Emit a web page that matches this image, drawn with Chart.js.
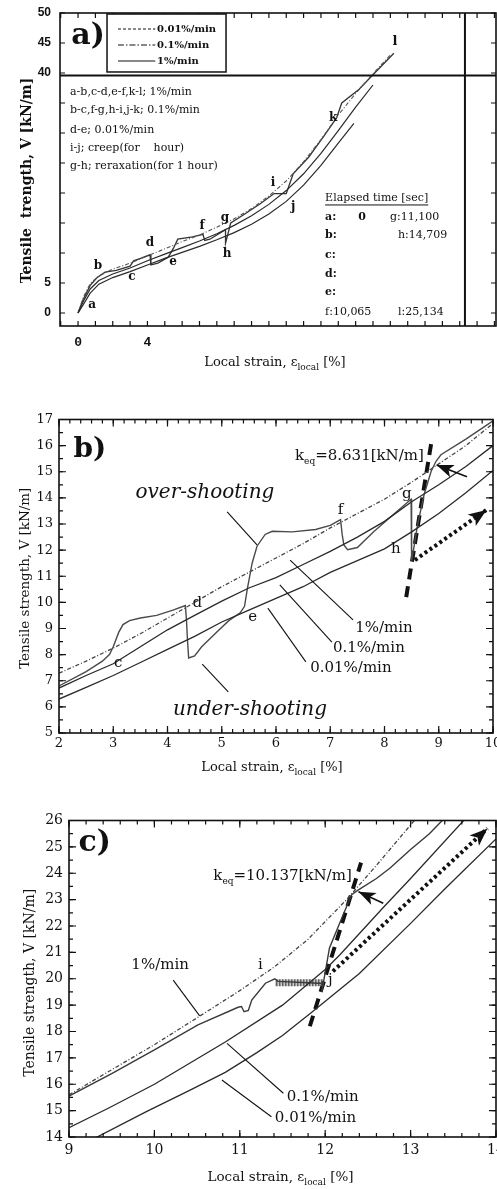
<!DOCTYPE html>
<html>
<head>
<meta charset="utf-8">
<script src="https://cdn.jsdelivr.net/npm/chart.js@4.4.1/dist/chart.umd.min.js"></script>
<style>
  html, body { margin: 0; padding: 0; background: #fff; overflow: hidden; }
  body { width: 497px; height: 1189px; position: relative; }
  canvas { position: absolute; left: 0; }
</style>
</head>
<body>
<canvas id="chartA"></canvas>
<canvas id="chartB"></canvas>
<canvas id="chartC"></canvas>
<script>
// ---- panel a) whole test, strain [%] vs V [kN/m] ----
const aTest = [[0,0],[0.3,2.3],[0.7,4.6],[1.1,5.9],[1.56,6.8],[2.2,7.1],[3.0,7.8],[3.2,8.7],[3.6,9.1],[4.15,9.7],[4.2,8.0],[4.6,8.3],[5.2,9.3],[5.5,10.8],[5.75,12.3],[6.6,12.7],[7.2,13.1],[7.3,12.1],[7.6,12.3],[8.5,13.9],[8.5,11.6],[8.8,15.0],[9.5,16.3],[10.5,18.2],[11.3,19.9],[12.0,19.9],[12.4,23.2],[13.3,26.0],[14.2,29.6],[14.9,32.5],[15.2,35.0],[16.2,37.3],[17.0,39.7],[18.2,43.3]];
const aRate1 = [[0,0],[0.3,2.6],[0.7,4.9],[1.2,6.2],[2,7.3],[3,8.3],[4,9.5],[5,10.7],[6,11.9],[7,13.0],[8,14.3],[9,15.7],[10,17.4],[11,19.5],[12,22.0],[13,25.2],[14,28.9],[15,33.0],[16,36.6],[17,39.9],[18,43.0]];
const aRate01 = [[0,0],[0.3,1.9],[0.7,4.0],[1.2,5.4],[2,6.5],[3,7.5],[4,8.7],[5,9.8],[6,10.9],[7,12.0],[8,13.2],[9,14.6],[10,16.2],[11,18.1],[12,20.4],[13,23.2],[14,26.6],[15,30.4],[16,34.3],[17,38.0]];
const aRate001 = [[0,0],[0.3,1.4],[0.7,3.3],[1.2,4.8],[2,5.9],[3,6.9],[4,8.0],[5,9.1],[6,10.1],[7,11.1],[8,12.2],[9,13.4],[10,14.8],[11,16.5],[12,18.6],[13,21.3],[14,24.6],[15,28.3],[15.9,31.6]];
const aXTicks = [-1,0,1,2,3,4,5,6,7,8,9,10,11,12,13,14,15,16,17,18,19,20,21,22,23,24];
const aXLabels = [0, 4];
const aYTicks = [0,5,10,15,20,25,30,35,40,45,50];
const aYLabels = [0, 5, 40, 45, 50];

// ---- panel b) strain 2-10 % ----
const bTest = [[2,6.8],[2.5,7.35],[2.8,7.75],[2.93,8.0],[3.0,8.3],[3.1,8.85],[3.18,9.15],[3.3,9.3],[3.5,9.4],[3.8,9.5],[4.1,9.7],[4.33,9.88],[4.35,9.3],[4.37,8.5],[4.39,7.87],[4.5,7.95],[4.63,8.3],[4.9,8.85],[5.13,9.3],[5.34,9.6],[5.42,9.85],[5.47,10.5],[5.56,11.5],[5.65,12.15],[5.8,12.6],[5.93,12.72],[6.3,12.7],[6.73,12.79],[7.0,12.95],[7.19,13.17],[7.22,12.6],[7.25,12.2],[7.32,12.02],[7.5,12.1],[7.8,12.7],[8.1,13.25],[8.49,13.95],[8.5,13.0],[8.5,11.6],[8.55,12.2],[8.61,12.98],[8.73,14.13],[8.86,15.02],[8.95,15.4],[9.04,15.65],[9.5,16.25],[10,16.95]];
const bRate1 = [[2,7.29],[2.5,7.75],[3,8.25],[3.5,8.8],[4,9.4],[4.5,10.0],[5,10.6],[5.5,11.15],[6,11.7],[6.5,12.25],[7,12.85],[7.5,13.4],[8,13.95],[8.5,14.6],[9,15.3],[9.5,16.0],[10,16.85]];
const bRate01 = [[2,6.72],[2.5,7.2],[3,7.65],[3.5,8.3],[4,8.95],[4.5,9.5],[5,10.05],[5.5,10.55],[6,10.95],[6.5,11.45],[7,11.95],[7.5,12.5],[8,13.1],[8.5,13.85],[9,14.5],[9.5,15.2],[10,16.0]];
const bRate001 = [[2,6.3],[2.5,6.75],[3,7.2],[3.5,7.7],[4,8.2],[4.5,8.7],[5,9.25],[5.5,9.7],[6,10.15],[6.5,10.6],[7,11.15],[7.5,11.6],[8,12.05],[8.5,12.7],[9,13.4],[9.5,14.2],[10,15.05]];
const bKeq = [[8.40,10.2],[8.87,16.2]];
const bDotArrow = [[8.56,11.62],[9.88,13.54]];
const bXTicks = [2,3,4,5,6,7,8,9,10];
const bYTicks = [5,6,7,8,9,10,11,12,13,14,15,16,17];

// ---- panel c) strain 9-14 % ----
const cTest = [[9,15.55],[9.5,16.4],[10,17.3],[10.51,18.25],[10.98,18.92],[11.02,18.95],[11.05,18.75],[11.1,18.8],[11.14,19.19],[11.3,19.83],[11.41,20.0],[11.45,19.9],[11.98,19.82],[11.96,19.5],[12.05,21.17],[12.21,22.43],[12.31,23.19],[12.38,23.35],[12.6,23.8],[12.76,24.2],[13.0,24.9],[13.22,25.5],[13.4,26.1]];
const cRate1 = [[9,15.6],[9.5,16.55],[10,17.5],[10.51,18.54],[11,19.55],[11.41,20.46],[11.8,21.5],[12.25,23.0],[12.6,24.3],[13.07,26.1]];
const cRate01 = [[9,14.35],[9.46,15.09],[10,16.0],[10.83,17.6],[11.5,19.0],[12,20.35],[12.17,20.9],[12.68,22.7],[13,23.8],[13.65,26.1]];
const cRate001 = [[9.3,13.95],[9.9,14.95],[10.4,15.75],[10.83,16.45],[11.2,17.2],[11.5,17.85],[11.85,18.75],[12.4,20.2],[13,22.1],[13.4,23.4],[14,25.3]];
const cCreep = [[11.42,19.85],[11.98,19.85]];
const cKeq = [[11.82,18.2],[12.42,24.4]];
const cDotArrow = [[12.09,20.28],[13.9,25.7]];
const cXTicks = [9,10,11,12,13,14];
const cYTicks = [14,15,16,17,18,19,20,21,22,23,24,25,26];

const SERIF = 'DejaVu Serif';
const INK = '#111';

function pts(arr) { return arr.map(([x, y]) => ({ x, y })); }

function line(data, color, width, dash) {
  return {
    data: pts(data), showLine: true, pointRadius: 0, tension: 0, fill: false,
    borderColor: color, borderWidth: width, borderDash: dash || [],
  };
}

function axis(min, max, ticks, labelOk, font, pad, size, isX) {
  return {
    type: 'linear', min, max,
    grid: { display: false, drawTicks: false },
    border: { display: false },
    afterBuildTicks: s => { s.ticks = ticks.map(v => ({ value: v })); },
    afterFit: s => {
      if (isX) s.height = size; else s.width = size;
      s.paddingLeft = s.paddingRight = s.paddingTop = s.paddingBottom = 0;
    },
    ticks: { autoSkip: false, maxRotation: 0, padding: pad, color: INK, font,
      callback: v => (labelOk(v) ? String(v) : '') },
  };
}

function drawRich(ctx, parts, x, y, font, subFont, align) {
  let w = 0;
  parts.forEach(([t, sub]) => { ctx.font = sub ? subFont : font; w += ctx.measureText(t).width; });
  let cx = align === 'center' ? x - w / 2 : x;
  ctx.textAlign = 'left';
  ctx.textBaseline = 'alphabetic';
  parts.forEach(([t, sub]) => {
    ctx.font = sub ? subFont : font;
    ctx.fillText(t, cx, sub ? y + 4 : y);
    cx += ctx.measureText(t).width;
  });
}

function head(ctx, x1, y1, x2, y2, len, w) {
  const a = Math.atan2(y2 - y1, x2 - x1);
  ctx.beginPath();
  ctx.moveTo(x2, y2);
  ctx.lineTo(x2 - len * Math.cos(a) + w / 2 * Math.sin(a), y2 - len * Math.sin(a) - w / 2 * Math.cos(a));
  ctx.lineTo(x2 - len * Math.cos(a) * 0.75, y2 - len * Math.sin(a) * 0.75);
  ctx.lineTo(x2 - len * Math.cos(a) - w / 2 * Math.sin(a), y2 - len * Math.sin(a) + w / 2 * Math.cos(a));
  ctx.closePath();
  ctx.fill();
}

const figure = {
  id: 'figure',
  afterDraw(chart, args, o) {
    const { ctx, chartArea: a, scales } = chart;
    const X = v => scales.x.getPixelForValue(v);
    const Y = v => scales.y.getPixelForValue(v);
    ctx.save();
    ctx.strokeStyle = INK;
    ctx.fillStyle = INK;

    // frame
    ctx.lineWidth = 1.6;
    ctx.strokeRect(a.left, a.top, a.width, a.height);

    // inward ticks on all four sides
    const t = o.ticks;
    const steps = (min, max, step) => {
      const out = [];
      for (let k = Math.ceil(min / step - 1e-6); k * step <= max + 1e-6; k++) out.push(k * step);
      return out;
    };
    const xt = (vals, len) => vals.forEach(v => {
      const p = X(v);
      if (p < a.left - 0.5 || p > a.right + 0.5) return;
      ctx.beginPath();
      ctx.moveTo(p, a.bottom); ctx.lineTo(p, a.bottom - len);
      ctx.moveTo(p, a.top); ctx.lineTo(p, a.top + len);
      ctx.stroke();
    });
    const yt = (vals, len) => vals.forEach(v => {
      const p = Y(v);
      if (p < a.top - 0.5 || p > a.bottom + 0.5) return;
      ctx.beginPath();
      ctx.moveTo(a.left, p); ctx.lineTo(a.left + len, p);
      ctx.moveTo(a.right, p); ctx.lineTo(a.right - len, p);
      ctx.stroke();
    });
    ctx.lineWidth = 1.2;
    if (t.xMinor) xt(steps(scales.x.min, scales.x.max, t.xMinor), t.minor);
    if (t.yMinor) yt(steps(scales.y.min, scales.y.max, t.yMinor), t.minor);
    xt(t.x, t.major);
    yt(t.y, t.major);

    // straight rules (panel a)
    ctx.lineWidth = 2;
    if (o.hRule !== undefined) {
      ctx.beginPath(); ctx.moveTo(a.left, Y(o.hRule)); ctx.lineTo(a.right, Y(o.hRule)); ctx.stroke();
    }
    if (o.vRule !== undefined) {
      ctx.beginPath(); ctx.moveTo(X(o.vRule), a.top); ctx.lineTo(X(o.vRule), a.bottom); ctx.stroke();
    }

    // legend box
    if (o.legend) {
      const L = o.legend;
      ctx.fillStyle = '#fff';
      ctx.fillRect(X(L.x0), Y(L.y0), X(L.x1) - X(L.x0), Y(L.y1) - Y(L.y0));
      ctx.fillStyle = INK;
      ctx.lineWidth = 1.5;
      ctx.strokeRect(X(L.x0), Y(L.y0), X(L.x1) - X(L.x0), Y(L.y1) - Y(L.y0));
      L.items.forEach(it => {
        ctx.lineWidth = 1.2;
        ctx.setLineDash(it.dash);
        ctx.beginPath(); ctx.moveTo(X(L.lx0), Y(it.y)); ctx.lineTo(X(L.lx1), Y(it.y)); ctx.stroke();
        ctx.setLineDash([]);
        ctx.font = L.font; ctx.textAlign = 'left'; ctx.textBaseline = 'middle';
        ctx.fillText(it.label, X(L.tx), Y(it.y));
      });
    }

    // pointer lines
    ctx.lineWidth = 1.1;
    (o.pointers || []).forEach(([x1, y1, x2, y2]) => {
      ctx.beginPath(); ctx.moveTo(X(x1), Y(y1)); ctx.lineTo(X(x2), Y(y2)); ctx.stroke();
    });
    // solid arrows with heads
    ctx.lineWidth = 1.6;
    (o.arrows || []).forEach(([x1, y1, x2, y2]) => {
      ctx.beginPath(); ctx.moveTo(X(x1), Y(y1)); ctx.lineTo(X(x2), Y(y2)); ctx.stroke();
      head(ctx, X(x1), Y(y1), X(x2), Y(y2), 17, 13);
    });
    // heads only (for dotted arrows drawn as datasets)
    (o.heads || []).forEach(([x1, y1, x2, y2]) => head(ctx, X(x1), Y(y1), X(x2), Y(y2), 18, 14));

    // texts
    (o.texts || []).forEach(it => {
      ctx.font = it.font;
      ctx.textAlign = it.align || 'center';
      ctx.textBaseline = it.base || 'middle';
      const px = X(it.x), py = Y(it.y);
      ctx.fillText(it.t, px, py);
      if (it.underline) {
        const w = ctx.measureText(it.t).width;
        ctx.lineWidth = 1;
        ctx.beginPath(); ctx.moveTo(px, py + 7); ctx.lineTo(px + w, py + 7); ctx.stroke();
      }
    });
    (o.rich || []).forEach(it => drawRich(ctx, it.parts, X(it.x), Y(it.y), it.font, it.subFont, it.align || 'left'));

    // axis titles
    if (o.xTitle) {
      const T = o.xTitle;
      drawRich(ctx, T.parts, (a.left + a.right) / 2 + (T.dx || 0), a.bottom + T.dy, T.font, T.subFont, 'center');
    }
    if (o.yTitle) {
      const T = o.yTitle;
      ctx.save();
      ctx.translate(T.x, (a.top + a.bottom) / 2 + (T.dy || 0));
      ctx.rotate(-Math.PI / 2);
      ctx.font = T.font; ctx.textAlign = 'center'; ctx.textBaseline = 'middle';
      ctx.fillText(T.t, 0, 0);
      ctx.restore();
    }
    ctx.restore();
  },
};

function makeChart(id, box, datasets, xAxis, yAxis, fig) {
  const cv = document.getElementById(id);
  cv.width = 497;
  cv.height = box.h;
  cv.style.top = box.top + 'px';
  return new Chart(cv, {
    type: 'scatter',
    data: { datasets },
    options: {
      responsive: false, animation: false, events: [],
      layout: { padding: { top: box.areaTop, right: 497 - box.areaRight, left: 0, bottom: 0 } },
      scales: { x: xAxis, y: yAxis },
      plugins: { legend: { display: false }, tooltip: { enabled: false }, figure: fig },
    },
    plugins: [figure],
  });
}

const strainTitle = (font, sub) => ({ parts: [['Local strain, \u03b5', 0], ['local', 1], [' [%]', 0]], font, subFont: sub });

// ---------- chart a ----------
makeChart('chartA', { top: 0, h: 380, areaTop: 13, areaRight: 496 },
  [
    line(aRate001, '#2a2a2a', 1.2),
    line(aRate01, '#2a2a2a', 1.2),
    line(aRate1, '#555', 1.1, [4, 2, 1, 2]),
    line(aTest, '#333', 1.3),
  ],
  axis(-1.04, 24.09, aXTicks, v => aXLabels.includes(v), { family: 'Liberation Mono', size: 13, weight: 'bold' }, 9, 54, true),
  axis(-2.17, 50, aYTicks, v => aYLabels.includes(v), { family: 'Liberation Sans', size: 12, weight: 'bold' }, 9, 60, false),
  {
    ticks: { x: aXTicks, y: aYTicks, major: 5, minor: 3 },
    hRule: 39.6, vRule: 22.3,
    legend: {
      x0: 1.67, x1: 8.53, y0: 49.83, y1: 40.17, lx0: 2.3, lx1: 4.45, tx: 4.55,
      font: `bold 10px ${SERIF}`,
      items: [
        { y: 47.33, label: '0.01%/min', dash: [3, 2] },
        { y: 44.67, label: '0.1%/min', dash: [6, 2, 1.5, 2] },
        { y: 42.0, label: '1%/min', dash: [] },
      ],
    },
    texts: [
      { x: 0.58, y: 46.2, t: 'a)', font: `bold 30px ${SERIF}` },
      { x: -0.46, y: 36.83, t: 'a-b,c-d,e-f,k-l; 1%/min', font: `11px ${SERIF}`, align: 'left' },
      { x: -0.46, y: 33.83, t: 'b-c,f-g,h-i,j-k; 0.1%/min', font: `11px ${SERIF}`, align: 'left' },
      { x: -0.46, y: 30.5, t: 'd-e; 0.01%/min', font: `11px ${SERIF}`, align: 'left' },
      { x: -0.46, y: 27.5, t: 'i-j; creep(for    hour)', font: `11px ${SERIF}`, align: 'left' },
      { x: -0.46, y: 24.5, t: 'g-h; reraxation(for 1 hour)', font: `11px ${SERIF}`, align: 'left' },
      { x: 14.24, y: 19.17, t: 'Elapsed time [sec]', font: `11px ${SERIF}`, align: 'left', underline: true },
      { x: 14.24, y: 16.0, t: 'a:', font: `bold 11px ${SERIF}`, align: 'left' },
      { x: 16.37, y: 16.0, t: '0', font: `bold 11px ${SERIF}` },
      { x: 17.98, y: 16.0, t: 'g:11,100', font: `11px ${SERIF}`, align: 'left' },
      { x: 14.24, y: 13.0, t: 'b:', font: `bold 11px ${SERIF}`, align: 'left' },
      { x: 18.44, y: 13.0, t: 'h:14,709', font: `11px ${SERIF}`, align: 'left' },
      { x: 14.24, y: 9.67, t: 'c:', font: `bold 11px ${SERIF}`, align: 'left' },
      { x: 14.24, y: 6.5, t: 'd:', font: `bold 11px ${SERIF}`, align: 'left' },
      { x: 14.24, y: 3.5, t: 'e:', font: `bold 11px ${SERIF}`, align: 'left' },
      { x: 14.24, y: 0.17, t: 'f:10,065', font: `11px ${SERIF}`, align: 'left' },
      { x: 18.44, y: 0.17, t: 'l:25,134', font: `11px ${SERIF}`, align: 'left' },
      { x: 0.81, y: 1.33, t: 'a', font: `bold 12px ${SERIF}` },
      { x: 1.15, y: 7.83, t: 'b', font: `bold 12px ${SERIF}` },
      { x: 3.11, y: 6.0, t: 'c', font: `bold 12px ${SERIF}` },
      { x: 4.15, y: 11.67, t: 'd', font: `bold 12px ${SERIF}` },
      { x: 5.48, y: 8.5, t: 'e', font: `bold 12px ${SERIF}` },
      { x: 7.15, y: 14.5, t: 'f', font: `bold 12px ${SERIF}` },
      { x: 8.47, y: 15.83, t: 'g', font: `bold 12px ${SERIF}` },
      { x: 8.59, y: 9.83, t: 'h', font: `bold 12px ${SERIF}` },
      { x: 11.24, y: 21.67, t: 'i', font: `bold 12px ${SERIF}` },
      { x: 12.4, y: 17.67, t: 'j', font: `bold 12px ${SERIF}` },
      { x: 14.7, y: 32.5, t: 'k', font: `bold 12px ${SERIF}` },
      { x: 18.27, y: 45.17, t: 'l', font: `bold 13px ${SERIF}` },
    ],
    xTitle: { ...strainTitle(`13px ${SERIF}`, `9px ${SERIF}`), dy: 40, dx: -3 },
    yTitle: { t: 'Tensile  trength, V [kN/m]', font: `bold 14px ${SERIF}`, x: 27, dy: 11 },
  });

// ---------- chart b ----------
makeChart('chartB', { top: 400, h: 385, areaTop: 19.5, areaRight: 493 },
  [
    line(bRate001, '#2a2a2a', 1.3),
    line(bRate01, '#2a2a2a', 1.3),
    line(bRate1, '#444', 1.3, [4, 2, 1, 2]),
    line(bTest, '#4a4a4a', 1.4),
    line(bKeq, '#111', 4, [11, 7]),
    line(bDotArrow, '#111', 4, [3, 3]),
  ],
  axis(2, 10, bXTicks, () => true, { family: SERIF, size: 13 }, 3, 52, true),
  axis(5, 17, bYTicks, () => true, { family: SERIF, size: 13 }, 6, 59, false),
  {
    ticks: { x: bXTicks, y: bYTicks, xMinor: 0.2, yMinor: 0.5, major: 7, minor: 4 },
    texts: [
      { x: 2.57, y: 15.83, t: 'b)', font: `bold 28px ${SERIF}` },
      { x: 4.69, y: 14.21, t: 'over-shooting', font: `italic 20px ${SERIF}` },
      { x: 5.52, y: 5.88, t: 'under-shooting', font: `italic 20px ${SERIF}` },
      { x: 7.46, y: 9.02, t: '1%/min', font: `15px ${SERIF}`, align: 'left' },
      { x: 7.05, y: 8.25, t: '0.1%/min', font: `15px ${SERIF}`, align: 'left' },
      { x: 6.63, y: 7.48, t: '0.01%/min', font: `15px ${SERIF}`, align: 'left' },
      { x: 3.09, y: 7.69, t: 'c', font: `15px ${SERIF}` },
      { x: 4.55, y: 9.99, t: 'd', font: `15px ${SERIF}` },
      { x: 5.57, y: 9.45, t: 'e', font: `15px ${SERIF}` },
      { x: 7.19, y: 13.55, t: 'f', font: `15px ${SERIF}` },
      { x: 8.41, y: 14.16, t: 'g', font: `15px ${SERIF}` },
      { x: 8.21, y: 12.02, t: 'h', font: `15px ${SERIF}` },
    ],
    rich: [
      { x: 6.35, y: 15.45, parts: [['k', 0], ['eq', 1], ['=8.631[kN/m]', 0]], font: `15px ${SERIF}`, subFont: `9px ${SERIF}` },
    ],
    pointers: [
      [5.10, 13.46, 5.65, 12.2],
      [7.42, 9.33, 6.26, 11.62],
      [7.03, 8.48, 6.07, 10.67],
      [6.55, 7.72, 5.85, 9.78],
      [5.12, 6.57, 4.64, 7.64],
    ],
    arrows: [[9.52, 14.81, 8.96, 15.26]],
    heads: [[bDotArrow[0][0], bDotArrow[0][1], bDotArrow[1][0], bDotArrow[1][1]]],
    xTitle: { ...strainTitle(`13px ${SERIF}`, `9px ${SERIF}`), dy: 38, dx: -4 },
    yTitle: { t: 'Tensile strength, V [kN/m]', font: `13.5px ${SERIF}`, x: 25, dy: 2 },
  });

// ---------- chart c ----------
makeChart('chartC', { top: 790, h: 399, areaTop: 30.5, areaRight: 496 },
  [
    line(cRate001, '#2a2a2a', 1.3),
    line(cRate01, '#2a2a2a', 1.3),
    line(cRate1, '#444', 1.3, [4, 2, 1, 2]),
    line(cTest, '#3a3a3a', 1.4),
    line(cCreep, 'rgba(80,80,80,0.9)', 7, [2, 1]),
    line(cKeq, '#111', 4, [11, 7]),
    line(cDotArrow, '#111', 4, [3, 3]),
  ],
  axis(9, 14, cXTicks, () => true, { family: SERIF, size: 14 }, 5, 52, true),
  axis(14, 26, cYTicks, () => true, { family: SERIF, size: 14 }, 6, 69, false),
  {
    ticks: { x: cXTicks, y: cYTicks, xMinor: 0.2, yMinor: 0.5, major: 7, minor: 4 },
    texts: [
      { x: 9.30, y: 25.15, t: 'c)', font: `bold 30px ${SERIF}` },
      { x: 9.73, y: 20.52, t: '1%/min', font: `15px ${SERIF}`, align: 'left' },
      { x: 11.55, y: 15.53, t: '0.1%/min', font: `15px ${SERIF}`, align: 'left' },
      { x: 11.41, y: 14.72, t: '0.01%/min', font: `15px ${SERIF}`, align: 'left' },
      { x: 11.24, y: 20.52, t: 'i', font: `15px ${SERIF}` },
      { x: 12.06, y: 19.95, t: 'j', font: `15px ${SERIF}` },
    ],
    rich: [
      { x: 10.69, y: 23.74, parts: [['k', 0], ['eq', 1], ['=10.137[kN/m]', 0]], font: `15px ${SERIF}`, subFont: `9px ${SERIF}` },
    ],
    pointers: [
      [10.22, 19.95, 10.53, 18.59],
      [11.51, 15.66, 10.85, 17.55],
      [11.37, 14.77, 10.79, 16.16],
    ],
    arrows: [[12.68, 22.86, 12.39, 23.3]],
    heads: [[cDotArrow[0][0], cDotArrow[0][1], cDotArrow[1][0], cDotArrow[1][1]]],
    xTitle: { ...strainTitle(`13.5px ${SERIF}`, `9px ${SERIF}`), dy: 44, dx: -2 },
    yTitle: { t: 'Tensile strength, V [kN/m]', font: `14px ${SERIF}`, x: 30, dy: 4 },
  });
</script>
</body>
</html>
